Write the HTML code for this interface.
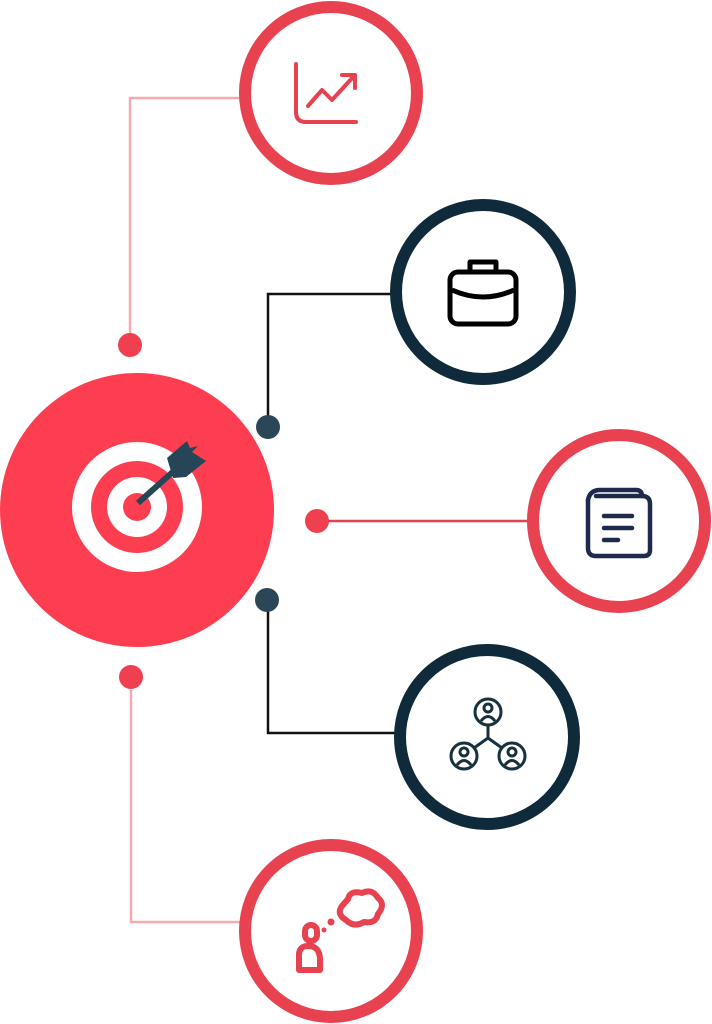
<!DOCTYPE html>
<html><head><style>html,body{margin:0;padding:0;background:#fff;}svg{display:block}</style></head>
<body>
<svg width="712" height="1024" viewBox="0 0 712 1024" xmlns="http://www.w3.org/2000/svg">
<!-- connectors -->
<g fill="none" stroke-width="2.5">
<polyline points="240,98 130,98 130,335" stroke="#f7a9b0"/>
<polyline points="400,294 268,294 268,420" stroke="#111"/>
<line x1="317" y1="521" x2="530" y2="521" stroke="#e8414f"/>
<polyline points="268,600 268,733 400,733" stroke="#111"/>
<polyline points="131,690 131,922 240,922" stroke="#f7a9b0"/>
</g>
<circle cx="130" cy="345" r="12" fill="#f0404f"/>
<circle cx="268" cy="427" r="12" fill="#2b4656"/>
<circle cx="317" cy="521" r="12" fill="#f0404f"/>
<circle cx="267" cy="600" r="12" fill="#2b4656"/>
<circle cx="131" cy="677" r="12" fill="#f0404f"/>
<!-- main circle -->
<circle cx="137" cy="510" r="137" fill="#fd3e51"/>
<circle cx="137" cy="507" r="65" fill="#fff"/>
<circle cx="137" cy="507" r="46" fill="#fd3e51"/>
<circle cx="137" cy="507" r="30" fill="#fff"/>
<circle cx="137" cy="507" r="14" fill="#fd3e51"/>
<line x1="138" y1="503" x2="175" y2="470" stroke="#264556" stroke-width="6"/>
<polygon points="167,458 187,441 190,448 198,446 192,452 206,461 186,477 173,478" fill="#264556"/>
<!-- outer circles -->
<g fill="#fff" stroke-width="12">
<circle cx="331" cy="93" r="86" stroke="#e8414f"/>
<circle cx="483" cy="292" r="87" stroke="#0f2a3a"/>
<circle cx="619" cy="521" r="86" stroke="#e8414f"/>
<circle cx="487" cy="737" r="87" stroke="#0f2a3a"/>
<circle cx="331" cy="931" r="86" stroke="#e8414f"/>
</g>
<!-- chart icon -->
<g fill="none" stroke="#e8414f" stroke-width="4" stroke-linecap="round" stroke-linejoin="round">
<path d="M296 64 V112 Q296 122 306 122 H356"/>
<path d="M308 106 L322 90 L332 100 L354 76"/>
<path d="M342 75 H355 V88"/>
</g>
<!-- briefcase -->
<g fill="none" stroke="#000" stroke-width="5" stroke-linejoin="round">
<rect x="450" y="272" width="66" height="52" rx="8"/>
<path d="M470 272 V262 H496 V272"/>
<path d="M452 290 Q483 304 514 290"/>
</g>
<!-- book -->
<g fill="none" stroke="#1e2a4a" stroke-width="4.5" stroke-linecap="round" stroke-linejoin="round">
<path d="M596 496 H642 Q650 496 650 504 V550 Q650 556 644 556 H596 Q588 556 588 548 V500"/>
<path d="M588 500 Q590 490 600 490 H636 Q642 490 642 496"/>
<line x1="604" y1="516" x2="632" y2="516"/>
<line x1="604" y1="528" x2="632" y2="528"/>
<line x1="604" y1="540" x2="618" y2="540"/>
</g>
<!-- people network -->
<g fill="none" stroke="#17313f" stroke-width="3">
<circle cx="488" cy="712" r="13"/>
<circle cx="464" cy="756" r="13"/>
<circle cx="512" cy="756" r="13"/>
<circle cx="488" cy="708" r="4"/><path d="M481 721 Q488 712 495 721"/>
<circle cx="464" cy="752" r="4"/><path d="M457 765 Q464 756 471 765"/>
<circle cx="512" cy="752" r="4"/><path d="M505 765 Q512 756 519 765"/>
<path d="M488 725 V738 L474 748 M488 738 L502 748"/>
</g>
<!-- person thought -->
<g fill="none" stroke="#e8414f" stroke-width="6" stroke-linejoin="round">
<rect x="305" y="925" width="12" height="16" rx="6"/>
<path d="M299 970 V955 Q299 946 308 946 Q320 946 320 960 V970 Z"/>
<path d="M348 899 Q350 890 362 893 Q372 888 378 898 Q386 904 378 914 Q376 924 364 922 Q354 928 346 920 Q336 914 342 906 Z"/>
</g>
<circle cx="324" cy="930" r="2.5" fill="#e8414f"/>
<circle cx="331" cy="922" r="3.5" fill="#e8414f"/>
</svg>
</body></html>
